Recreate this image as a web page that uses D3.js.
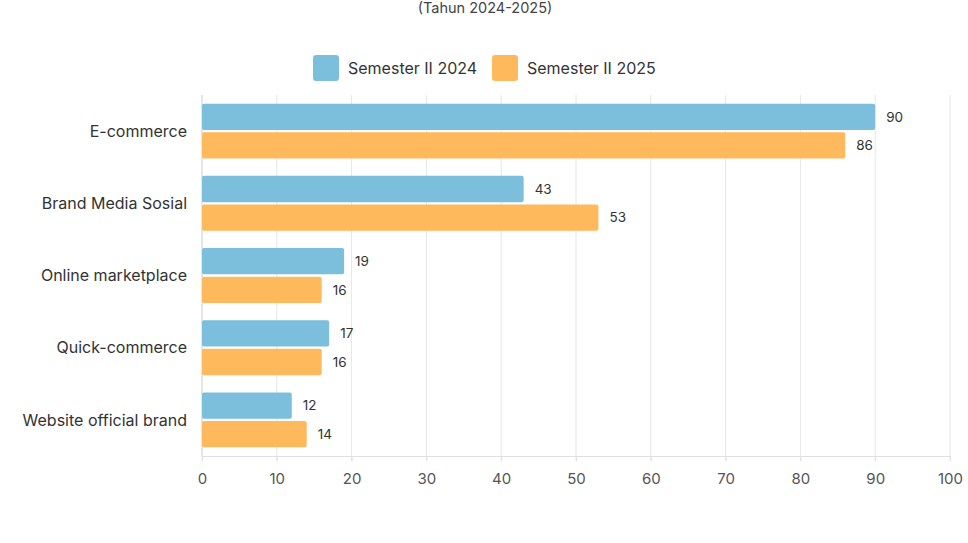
<!DOCTYPE html>
<html>
<head>
<meta charset="utf-8">
<script src="https://cdn.jsdelivr.net/npm/d3@7"></script>
<style>
    body { margin: 0; background: #ffffff; }
    svg { display: block; font-family: Inter, 'Open Sans', sans-serif; }
</style>
</head>
<body>
<div id="chart"></div>
<script>
'use strict';

var categories = ['E-commerce', 'Brand Media Sosial', 'Online marketplace', 'Quick-commerce', 'Website official brand'];
var seriesNames = ['Semester II 2024', 'Semester II 2025'];
var values2024 = [90, 43, 19, 17, 12];
var values2025 = [86, 53, 16, 16, 14];
var xTicks = [0, 10, 20, 30, 40, 50, 60, 70, 80, 90, 100];
var colors = ['#7bbfdc', '#ffb95d'];

var width = 968,
    height = 543,
    margin = { top: 95, right: 18, bottom: 87, left: 202 };

var svg = d3.select('#chart').append('svg')
    .attr('width', width)
    .attr('height', height);

// subtitle (main title sits above the visible area)
svg.append('text')
    .attr('x', 485)
    .attr('y', 13)
    .attr('text-anchor', 'middle')
    .attr('font-size', '14.5px')
    .attr('fill', '#444')
    .text('(Tahun 2024-2025)');

var x = d3.scaleLinear()
    .domain([0, 100])
    .range([margin.left, width - margin.right]);

var y = d3.scaleBand()
    .domain(categories)
    .range([margin.top, height - margin.bottom])
    .paddingInner(0.24)
    .paddingOuter(0.12);

var y1 = d3.scaleBand()
    .domain(seriesNames)
    .range([0, y.bandwidth()])
    .paddingInner(0.08);

// grid
svg.append('g')
    .attr('id', 'grid-layer')
    .selectAll('line')
    .data(xTicks)
    .enter().append('line')
        .attr('x1', function(d) { return x(d); })
        .attr('x2', function(d) { return x(d); })
        .attr('y1', margin.top)
        .attr('y2', height - margin.bottom + 5)
        .attr('stroke', '#e6e6e6')
        .attr('stroke-width', 1);

// bottom axis
var xAxis = svg.append('g')
    .attr('transform', 'translate(0,' + (height - margin.bottom) + ')')
    .call(d3.axisBottom(x).tickValues(xTicks).tickSize(5).tickPadding(12));

xAxis.select('.domain').attr('stroke', '#e0e0e0');
xAxis.selectAll('.tick line').attr('stroke', '#e0e0e0');
xAxis.selectAll('.tick text')
    .attr('font-size', '15px')
    .attr('font-family', 'Inter, sans-serif')
    .attr('fill', '#555');

// left axis line
svg.append('line')
    .attr('x1', margin.left)
    .attr('x2', margin.left)
    .attr('y1', margin.top)
    .attr('y2', height - margin.bottom)
    .attr('stroke', '#d8d8d8');

// category labels
svg.append('g')
    .selectAll('text')
    .data(categories)
    .enter().append('text')
        .attr('x', margin.left - 15)
        .attr('y', function(d) { return y(d) + y.bandwidth() / 2; })
        .attr('dy', '0.35em')
        .attr('text-anchor', 'end')
        .attr('font-size', '16px')
        .attr('fill', '#333')
        .text(function(d) { return d; });

// bars
var series = [values2024, values2025];
var barLayer = svg.append('g').attr('id', 'bars-layer');

series.forEach(function(vals, si) {
    var g = barLayer.append('g');
    g.selectAll('rect')
        .data(vals)
        .enter().append('rect')
            .attr('x', x(0))
            .attr('y', function(d, i) { return y(categories[i]) + y1(seriesNames[si]); })
            .attr('width', function(d) { return x(d) - x(0); })
            .attr('height', y1.bandwidth())
            .attr('rx', 2)
            .attr('fill', colors[si]);

    g.selectAll('text')
        .data(vals)
        .enter().append('text')
            .attr('x', function(d) { return x(d) + 11; })
            .attr('y', function(d, i) { return y(categories[i]) + y1(seriesNames[si]) + y1.bandwidth() / 2; })
            .attr('dy', '0.35em')
            .attr('font-size', '13.5px')
            .attr('fill', '#333')
            .text(function(d) { return d; });
});

// legend
var legend = svg.append('g').attr('id', 'legend');
var legendX = [313, 492];
seriesNames.forEach(function(name, i) {
    legend.append('rect')
        .attr('x', legendX[i])
        .attr('y', 55)
        .attr('width', 26)
        .attr('height', 26)
        .attr('rx', 3)
        .attr('fill', colors[i]);
    legend.append('text')
        .attr('x', legendX[i] + 35)
        .attr('y', 68)
        .attr('dy', '0.35em')
        .attr('font-size', '16px')
        .attr('fill', '#333')
        .text(name);
});
</script>
</body>
</html>
